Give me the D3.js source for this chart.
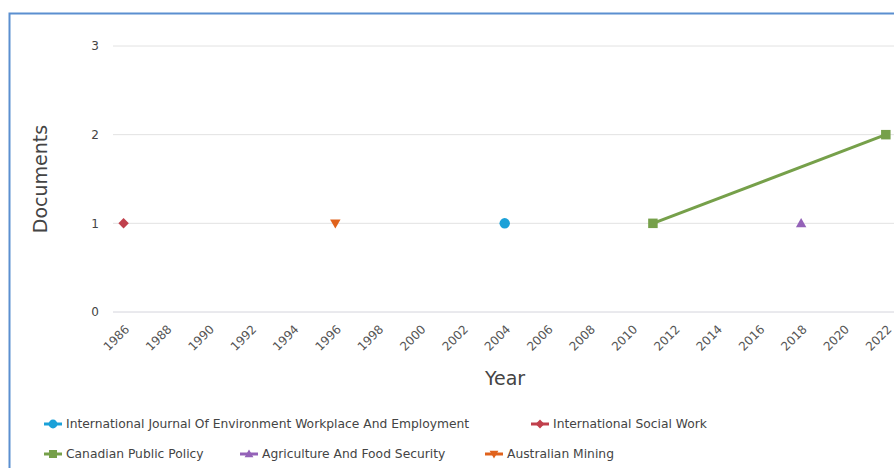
<!DOCTYPE html>
<html>
<head>
<meta charset="utf-8">
<script src="https://cdn.jsdelivr.net/npm/d3@7"></script>
<style>
  body { margin: 0; background: #fff; }
  svg { display: block; font-family: "DejaVu Sans", sans-serif; }
</style>
</head>
<body>
<svg id="chart" width="894" height="468"></svg>
<script>
// series names, in legend order
const seriesNames = [
    "International Journal Of Environment Workplace And Employment",
    "International Social Work",
    "Canadian Public Policy",
    "Agriculture And Food Security",
    "Australian Mining"
];
const seriesColors = ["#1ba1d8", "#c0404c", "#76a04a", "#9462b8", "#e0621c"];
const seriesSymbols = ["circle", "diamond", "square", "triangle", "triangleDown"];

// points per series: [year, documents]
const journalEnvPoints = [[2004, 1]];
const socialWorkPoints = [[1986, 1]];
const canadianPolicyPoints = [[2011, 1], [2022, 2]];
const agricultureFoodPoints = [[2018, 1]];
const australianMiningPoints = [[1996, 1]];
const seriesPoints = [journalEnvPoints, socialWorkPoints, canadianPolicyPoints, agricultureFoodPoints, australianMiningPoints];

const xTicks = d3.range(1986, 2023, 2);
const yTicks = [0, 1, 2, 3];

const svg = d3.select("#chart");

// outer frame
svg.append("rect")
    .attr("x", 9.5).attr("y", 13.5)
    .attr("width", 900).attr("height", 470)
    .attr("fill", "none")
    .attr("stroke", "#5b8fd0")
    .attr("stroke-width", 2);

const scX = d3.scaleLinear().domain([1985.5, 2023]).range([113, 907]);
const scY = d3.scaleLinear().domain([0, 3]).range([312, 46]);

// grid lines
svg.append("g")
    .selectAll("line")
    .data(yTicks)
    .enter()
    .append("line")
    .attr("x1", scX.range()[0]).attr("x2", scX.range()[1])
    .attr("y1", d => scY(d)).attr("y2", d => scY(d))
    .attr("stroke", d => d === 0 ? "#d4d4dc" : "#e2e2e2")
    .attr("stroke-width", 1);

// y axis
const axisY = d3.axisLeft(scY).tickValues(yTicks).tickSize(0).tickPadding(0).tickFormat(d3.format("d"));
const gy = svg.append("g").attr("transform", "translate(99,0)").call(axisY);
gy.select(".domain").remove();
gy.selectAll("text").attr("font-size", 12).attr("fill", "#444").attr("font-family", "DejaVu Sans, sans-serif");

// x axis
const axisX = d3.axisBottom(scX).tickValues(xTicks).tickSize(0).tickPadding(0).tickFormat(d3.format("d"));
const gx = svg.append("g").attr("transform", "translate(0,312)").call(axisX);
gx.select(".domain").remove();
gx.selectAll("text")
    .attr("font-size", 12)
    .attr("fill", "#555")
    .attr("font-family", "DejaVu Sans, sans-serif")
    .style("text-anchor", "end")
    .attr("dy", 0)
    .attr("y", 0)
    .attr("transform", "translate(6,18) rotate(-45)");

// axis titles
svg.append("text")
    .attr("x", 505).attr("y", 385)
    .attr("text-anchor", "middle")
    .attr("font-size", 19)
    .attr("fill", "#444")
    .text("Year");

svg.append("text")
    .attr("transform", "translate(47,179) rotate(-90)")
    .attr("text-anchor", "middle")
    .attr("font-size", 19)
    .attr("fill", "#444")
    .text("Documents");

function marker(sel, kind, s) {
    if (kind === "circle") {
        return sel.append("circle").attr("r", s * 0.55);
    }
    if (kind === "square") {
        return sel.append("rect").attr("x", -s / 2).attr("y", -s / 2).attr("width", s).attr("height", s);
    }
    if (kind === "diamond") {
        const h = s * 0.55;
        return sel.append("path").attr("d", `M0,${-h}L${h},0L0,${h}L${-h},0Z`);
    }
    const h = s * 0.55;
    const up = `M0,${-h}L${h},${h * 0.75}L${-h},${h * 0.75}Z`;
    const down = `M0,${h}L${h},${-h * 0.75}L${-h},${-h * 0.75}Z`;
    return sel.append("path").attr("d", kind === "triangle" ? up : down);
}

const line = d3.line()
    .x(d => scX(d[0]))
    .y(d => scY(d[1]));

seriesPoints.forEach((pts, i) => {
    const g = svg.append("g");
    if (pts.length > 1) {
        g.append("path")
            .datum(pts)
            .attr("fill", "none")
            .attr("stroke", seriesColors[i])
            .attr("stroke-width", 3)
            .attr("d", line);
    }
    pts.forEach(d => {
        const pg = g.append("g").attr("transform", `translate(${scX(d[0])},${scY(d[1])})`);
        marker(pg, seriesSymbols[i], 9.5).attr("fill", seriesColors[i]);
    });
});

// legend
const legendPos = [[44, 424], [531, 424], [44, 454], [240, 454], [485, 454]];
seriesNames.forEach((name, i) => {
    const [lx, ly] = legendPos[i];
    const g = svg.append("g").attr("transform", `translate(${lx},${ly})`);
    g.append("line")
        .attr("x1", 0).attr("x2", 18)
        .attr("y1", 0).attr("y2", 0)
        .attr("stroke", seriesColors[i])
        .attr("stroke-width", 3);
    const mg = g.append("g").attr("transform", "translate(9,0)");
    marker(mg, seriesSymbols[i], 8).attr("fill", seriesColors[i]);
    g.append("text")
        .attr("x", 22).attr("y", 0)
        .attr("dy", "0.35em")
        .attr("font-size", 12.3)
        .attr("fill", "#444")
        .text(name);
});
</script>
</body>
</html>
